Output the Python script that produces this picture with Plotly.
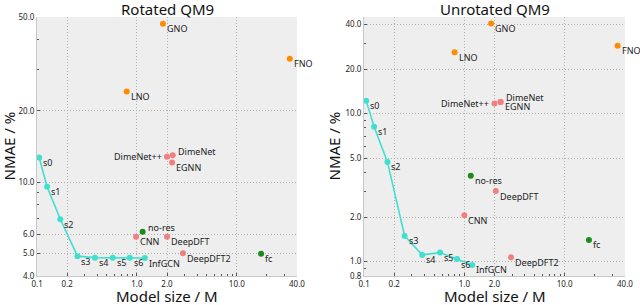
import numpy as np
import plotly.graph_objects as go

# ---------------- data ----------------
s_names = ["s0", "s1", "s2", "s3", "s4", "s5", "s6", "InfGCN"]
s_size = [0.105, 0.126, 0.171, 0.254, 0.38, 0.573, 0.847, 1.20]
s_rot = [12.7, 9.55, 6.95, 4.85, 4.78, 4.78, 4.78, 4.76]
s_unrot = [12.2, 8.15, 4.72, 1.49, 1.11, 1.15, 1.04, 0.95]

no_names = ["GNO", "LNO", "FNO"]
no_size_rot = [1.82, 0.79, 33.9]
no_rot = [46.9, 24.2, 33.3]
no_size_unrot = [1.85, 0.80, 33.8]
no_unrot = [40.6, 26.0, 28.8]

bl_names = ["DimeNet++", "DimeNet", "EGNN", "CNN", "DeepDFT", "DeepDFT2"]
bl_size_rot = [2.0, 2.28, 2.25, 0.98, 2.0, 2.89]
bl_rot = [12.8, 13.0, 12.1, 5.86, 5.86, 4.99]
bl_size_unrot = [2.0, 2.3, 2.3, 1.0, 2.06, 2.92]
bl_unrot = [11.7, 12.0, 12.0, 2.06, 3.0, 1.07]

ab_names = ["no-res", "fc"]
ab_size_rot = [1.14, 17.5]
ab_rot = [6.16, 4.97]
ab_size_unrot = [1.16, 17.5]
ab_unrot = [3.81, 1.40]

x_ticks = [0.1, 0.2, 1, 2, 10, 40]
x_ticktext = ["0.1", "0.2", "1.0", "2.0", "10.0", "40.0"]
y_ticks_rot = [4, 5, 6, 10, 20, 50]
y_ticks_unrot = [0.8, 1, 2, 5, 10, 20, 40]

titles = ["Rotated QM9", "Unrotated QM9"]

# ---------------- style ----------------
FONT = "Noto Sans"
C_S = "#40e0d0"
C_NO = "#ff8c00"
C_BL = "#f08080"
C_AB = "#1a8c1a"

# label placement styles: (xanchor, xshift, yshift)
LBL = {"br": ("left", 3, -5), "tr": ("left", 4, 4), "ml": ("right", -4.5, 0)}

fig = go.Figure()
ann = []

def add_labels(names, xs, ys, pos, xa, ya):
    for n, x, y, p in zip(names, xs, ys, pos):
        xanc, dx, dy = LBL[p]
        ann.append(dict(text=n, x=np.log10(x), y=np.log10(y), xref=xa, yref=ya,
                        xanchor=xanc, yanchor="middle", xshift=dx, yshift=dy, showarrow=False,
                        borderpad=0, font=dict(family=FONT, size=9, color="#222")))

def add_panel(i, s_y, no_x, no_y, bl_x, bl_y, ab_x, ab_y, bl_pos, ab_pos):
    xa = "x" if i == 0 else "x2"
    ya = "y" if i == 0 else "y2"
    fig.add_trace(go.Scatter(x=s_size, y=s_y, mode="lines+markers",
                             line=dict(color=C_S, width=1.6), marker=dict(color=C_S, size=6),
                             xaxis=xa, yaxis=ya, showlegend=False, cliponaxis=False))
    fig.add_trace(go.Scatter(x=no_x, y=no_y, mode="markers", marker=dict(color=C_NO, size=6),
                             xaxis=xa, yaxis=ya, showlegend=False, cliponaxis=False))
    fig.add_trace(go.Scatter(x=bl_x, y=bl_y, mode="markers", marker=dict(color=C_BL, size=6),
                             xaxis=xa, yaxis=ya, showlegend=False, cliponaxis=False))
    fig.add_trace(go.Scatter(x=ab_x, y=ab_y, mode="markers", marker=dict(color=C_AB, size=6),
                             xaxis=xa, yaxis=ya, showlegend=False, cliponaxis=False))
    add_labels(s_names, s_size, s_y, ["br"] * len(s_names), xa, ya)
    add_labels(no_names, no_x, no_y, ["br"] * 3, xa, ya)
    add_labels(bl_names, bl_x, bl_y, bl_pos, xa, ya)
    add_labels(ab_names, ab_x, ab_y, ab_pos, xa, ya)

add_panel(0, s_rot, no_size_rot, no_rot, bl_size_rot, bl_rot, ab_size_rot, ab_rot,
          ["ml", "tr", "br", "br", "br", "br"], ["tr", "br"])
add_panel(1, s_unrot, no_size_unrot, no_unrot, bl_size_unrot, bl_unrot, ab_size_unrot, ab_unrot,
          ["ml", "tr", "br", "br", "br", "br"], ["br", "br"])

x_minor = [0.3, 0.4, 0.5, 0.6, 0.7, 0.8, 0.9, 3, 4, 5, 6, 7, 8, 9, 20, 30]
y_minor_rot = [7, 8, 9, 30, 40]
y_minor_unrot = [0.9, 3, 4, 6, 7, 8, 9, 30]

grid = dict(showgrid=True, gridcolor="#b0b0b0", griddash="1px,2px", gridwidth=1,
            zeroline=False, showline=True, linecolor="#c8c8c8", linewidth=1,
            ticks="inside", ticklen=3, tickcolor="#555", tickwidth=1,
            tickfont=dict(family=FONT, size=8, color="#222"), mirror=False,
            automargin=False)

minor = dict(ticks="inside", ticklen=2, tickcolor="#555", showgrid=False)

ydom = [1 - 276 / 305, 1 - 17 / 305]
xr = [np.log10(0.1) - 0.0005, np.log10(40) + 0.0005]

fig.update_layout(
    width=640, height=305, margin=dict(l=0, r=0, t=0, b=0, autoexpand=False),
    paper_bgcolor="white", plot_bgcolor="#eeeeee",
    font=dict(family=FONT),
    xaxis=dict(type="log", domain=[37 / 640, 297 / 640], range=xr, anchor="y",
               tickvals=x_ticks, ticktext=x_ticktext,
               minor=dict(tickvals=x_minor, **minor), **grid),
    yaxis=dict(type="log", domain=ydom, range=[np.log10(4) - 0.0005, np.log10(50) + 0.0005], anchor="x",
               tickvals=y_ticks_rot, ticktext=[f"{v:.1f}" for v in y_ticks_rot],
               minor=dict(tickvals=y_minor_rot, **minor), **grid),
    xaxis2=dict(type="log", domain=[364 / 640, 625 / 640], range=xr, anchor="y2",
                tickvals=x_ticks, ticktext=x_ticktext,
                minor=dict(tickvals=x_minor, **minor), **grid),
    yaxis2=dict(type="log", domain=ydom, range=[np.log10(0.8) - 0.0005, np.log10(45)], anchor="x2",
                tickvals=y_ticks_unrot, ticktext=[f"{v:.1f}" for v in y_ticks_unrot],
                minor=dict(tickvals=y_minor_unrot, **minor), **grid),
)

for cx, t in zip([167 / 640, 495 / 640], titles):
    ann.append(dict(text=t, x=cx, y=1 - 9 / 305, xref="paper", yref="paper", xanchor="center",
                    yanchor="middle", showarrow=False, font=dict(family=FONT, size=15, color="#111")))
for cx in [167 / 640, 495 / 640]:
    ann.append(dict(text="Model size / M", x=cx, y=1 - 296 / 305, xref="paper", yref="paper",
                    xanchor="center", yanchor="middle", showarrow=False, borderpad=0,
                    font=dict(family=FONT, size=15, color="#111")))
for cx in [8 / 640, 333 / 640]:
    ann.append(dict(text="NMAE / %", x=cx, y=(ydom[0] + ydom[1]) / 2, xref="paper", yref="paper",
                    xanchor="center", yanchor="middle", textangle=-90, showarrow=False,
                    font=dict(family=FONT, size=15, color="#111")))
fig.update_layout(annotations=ann)

fig.write_html("out.html", config={"displayModeBar": False},
               post_script="document.body.style.margin='0';")
